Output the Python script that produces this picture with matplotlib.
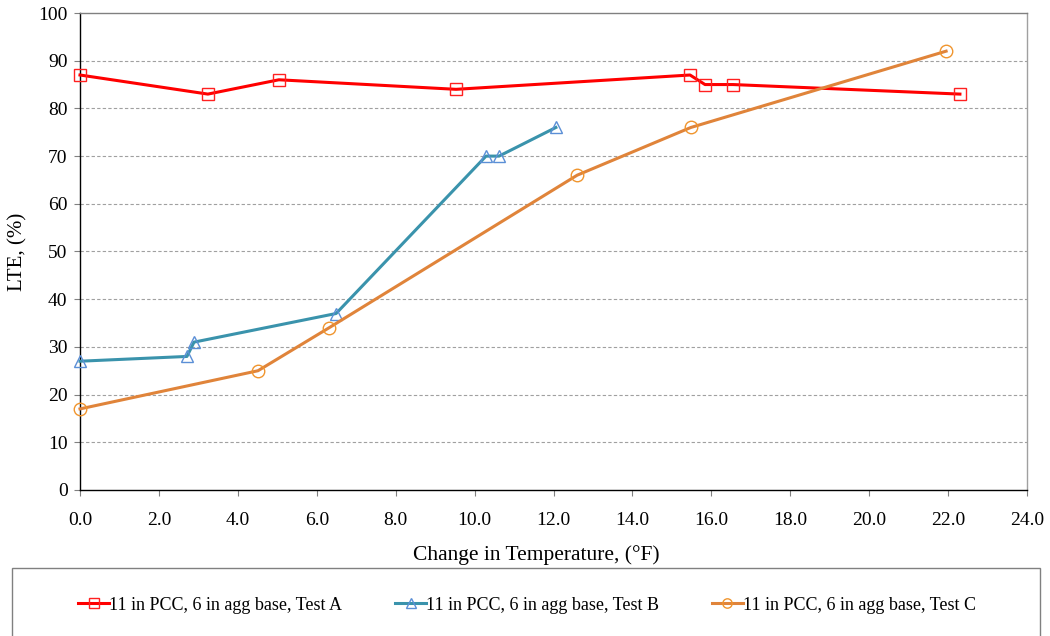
import matplotlib.pyplot as plt
from matplotlib.patches import Rectangle

plt.rcParams['font.family'] = ['Liberation Serif', 'DejaVu Serif']

# data
x_a = [0.0, 3.24, 5.04, 9.53, 15.46, 15.84, 16.55, 22.3]
y_a = [87, 83, 86, 84, 87, 85, 85, 83]
x_b = [0.0, 2.71, 2.89, 6.49, 10.29, 10.62, 12.06]
y_b = [27, 28, 31, 37, 70, 70, 76]
x_c = [0.0, 4.51, 6.31, 12.6, 15.48, 21.95]
y_c = [17, 25, 34, 66, 76, 92]
labels = ['11 in PCC, 6 in agg base, Test A',
          '11 in PCC, 6 in agg base, Test B',
          '11 in PCC, 6 in agg base, Test C']
x_ticks = [0, 2, 4, 6, 8, 10, 12, 14, 16, 18, 20, 22, 24]
y_ticks = [0, 10, 20, 30, 40, 50, 60, 70, 80, 90, 100]

fig = plt.figure(figsize=(10.5, 6.36), dpi=100)
ax = fig.add_axes([80/1050, 1-490/636, (1027-80)/1050, (490-13)/636])

ax.plot(x_a, y_a, color='#FF0000', lw=2.2, marker='s', ms=9,
        mfc='none', mec='#FF2020', mew=1.0, label=labels[0], clip_on=False, zorder=3)
ax.plot(x_b, y_b, color='#3A93AC', lw=2.2, marker='^', ms=9,
        mfc='none', mec='#5B8FD6', mew=1.0, label=labels[1], clip_on=False, zorder=3)
ax.plot(x_c, y_c, color='#E0843A', lw=2.2, marker='o', ms=9,
        mfc='none', mec='#F0952E', mew=1.0, label=labels[2], clip_on=False, zorder=3)

ax.set_xlim(0, 24)
ax.set_ylim(0, 100)
ax.set_xticks(x_ticks)
ax.set_xticklabels([f'{v:.1f}' for v in x_ticks])
ax.set_yticks(y_ticks)
ax.tick_params(axis='both', labelsize=14, direction='out', length=4, color='#808080')
ax.tick_params(axis='x', pad=12)
ax.tick_params(axis='y', pad=5)

for v in y_ticks[1:-1]:
    ax.axhline(v, color='#A0A0A0', lw=0.8, ls=(0, (3, 2)), zorder=1)
ax.spines['top'].set_color('#808080')
ax.spines['right'].set_color('#A0A0A0')
ax.spines['left'].set_color('black')
ax.spines['bottom'].set_color('black')
for s in ax.spines.values():
    s.set_linewidth(1.0)

ax.set_xlabel('Change in Temperature, (°F)', fontsize=15.5, labelpad=6)
ax.xaxis.set_label_coords((536 - 80) / 947, -0.115)
ax.set_ylabel('LTE, (%)', fontsize=15, labelpad=8)

# legend box at the bottom
fig.patches.append(Rectangle((12/1050, -0.02), 1028/1050, 0.02 + (636-568)/636,
                             transform=fig.transFigure, fill=False,
                             edgecolor='#808080', lw=1.0))
fig.legend(loc='center', bbox_to_anchor=(62/1050, (636-605)/636 - 0.02, 930/1050, 0.04),
           mode='expand', ncol=3, frameon=False, fontsize=13,
           handlelength=1.7, handletextpad=0.0, markerscale=0.75)

plt.savefig('out.png', dpi=100)
